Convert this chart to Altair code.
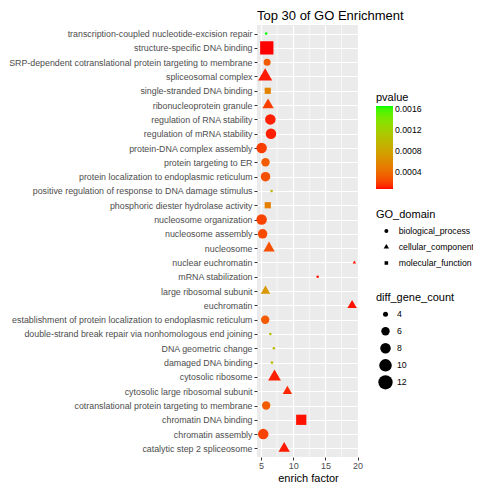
import altair as alt
import pandas as pd

terms = [
    "transcription-coupled nucleotide-excision repair",
    "structure-specific DNA binding",
    "SRP-dependent cotranslational protein targeting to membrane",
    "spliceosomal complex",
    "single-stranded DNA binding",
    "ribonucleoprotein granule",
    "regulation of RNA stability",
    "regulation of mRNA stability",
    "protein-DNA complex assembly",
    "protein targeting to ER",
    "protein localization to endoplasmic reticulum",
    "positive regulation of response to DNA damage stimulus",
    "phosphoric diester hydrolase activity",
    "nucleosome organization",
    "nucleosome assembly",
    "nucleosome",
    "nuclear euchromatin",
    "mRNA stabilization",
    "large ribosomal subunit",
    "euchromatin",
    "establishment of protein localization to endoplasmic reticulum",
    "double-strand break repair via nonhomologous end joining",
    "DNA geometric change",
    "damaged DNA binding",
    "cytosolic ribosome",
    "cytosolic large ribosomal subunit",
    "cotranslational protein targeting to membrane",
    "chromatin DNA binding",
    "chromatin assembly",
    "catalytic step 2 spliceosome",
]
enrich_factor = [5.8, 5.9, 5.95, 5.65, 6.05, 6.1, 6.45, 6.55, 5.1, 5.7,
                 5.7, 6.65, 6.05, 5.1, 5.25, 6.25, 19.5, 13.8, 5.7, 19.15,
                 5.65, 6.45, 7.0, 6.7, 7.1, 9.1, 5.8, 11.25, 5.35, 8.6]
go_domain = ["biological_process", "molecular_function", "biological_process", "cellular_component",
             "molecular_function", "cellular_component", "biological_process", "biological_process",
             "biological_process", "biological_process", "biological_process", "biological_process",
             "molecular_function", "biological_process", "biological_process", "cellular_component",
             "cellular_component", "biological_process", "cellular_component", "cellular_component",
             "biological_process", "biological_process", "biological_process", "molecular_function",
             "cellular_component", "cellular_component", "biological_process", "molecular_function",
             "biological_process", "cellular_component"]
diff_gene_count = [3, 13, 5, 8, 5, 6, 8, 8, 8, 6,
                   7, 3, 5, 8, 7, 6, 3, 3, 5, 5,
                   6, 3, 3, 3, 7, 5, 6, 9, 8, 6]
pvalue = [0.00165, 0.000067, 0.0003, 0.00009, 0.00055, 0.00018, 0.0001, 0.0001, 0.00018, 0.0003,
          0.00025, 0.00095, 0.00052, 0.0002, 0.00022, 0.00025, 0.00008, 0.00008, 0.0007, 0.00008,
          0.0003, 0.00105, 0.00098, 0.00098, 0.0001, 0.00012, 0.0003, 0.00008, 0.0002, 0.00009]

x_ticks = [5, 10, 15, 20]
x_minor = [7.5, 12.5, 17.5]
pvalue_breaks = [0.0004, 0.0008, 0.0012, 0.0016]
count_breaks = [4, 6, 8, 10, 12]
domain_names = ["biological_process", "cellular_component", "molecular_function"]

df = pd.DataFrame({
    "term": terms,
    "enrich": enrich_factor,
    "GO_domain": go_domain,
    "diff_gene_count": diff_gene_count,
    "pvalue": pvalue,
})
df_minor = pd.DataFrame({"enrich": x_minor})

TRI = "M0,-1.555L1.347,0.778L-1.347,0.778Z"
SQ = "M-0.886,-0.886H0.886V0.886H-0.886Z"

size_domain = [3, 4, 5, 6, 7, 8, 10, 12, 13]
size_diam = [2.6, 5, 7, 8.4, 9.5, 10.5, 12.5, 14.3, 15]
size_range = [d * d for d in size_diam]

FONT = "Liberation Sans"
xscale = alt.Scale(domain=[4.38, 20.22], nice=False, zero=False)
xaxis = alt.Axis(values=x_ticks, title="enrich factor", grid=True,
                 gridColor="white", gridWidth=1.2, domain=False,
                 tickColor="#333333", tickSize=3, labelFontSize=9.0,
                 labelColor="#4D4D4D", labelFont=FONT, labelPadding=1,
                 labelOverlap=False,
                 titleFont=FONT, titleFontSize=11, titleFontWeight="normal",
                 titleColor="black", titlePadding=2)

minor = alt.Chart(df_minor).mark_rule(color="white", strokeWidth=0.6).encode(
    x=alt.X("enrich:Q", scale=xscale, axis=xaxis)
)

points = alt.Chart(df).mark_point(filled=True, opacity=1, strokeWidth=0).encode(
    x=alt.X("enrich:Q", scale=xscale, axis=xaxis),
    y=alt.Y("term:N", sort=terms, scale=alt.Scale(padding=0.6),
            axis=alt.Axis(title=None, grid=True, gridColor="white", gridWidth=1.2,
                          domain=False, tickColor="#333333", tickSize=3,
                          labelFontSize=8.85, labelColor="#4D4D4D", labelFont=FONT,
                          labelPadding=2, labelLimit=400, labelOverlap=False)),
    color=alt.Color("pvalue:Q",
                    scale=alt.Scale(domain=[0.000067, 0.00165], range=["#FF0000", "#00FF00"],
                                    interpolate="lab"),
                    legend=alt.Legend(title="pvalue", orient="none", legendX=119, legendY=67,
                                      direction="vertical", values=pvalue_breaks, format=".4f",
                                      gradientLength=83, gradientThickness=17,
                                      gradientStrokeWidth=0, labelOverlap=False,
                                      titlePadding=3)),
    shape=alt.Shape("GO_domain:N",
                    scale=alt.Scale(domain=domain_names, range=["circle", TRI, SQ]),
                    legend=alt.Legend(title="GO_domain", orient="none", legendX=119, legendY=184,
                                      direction="vertical", symbolSize=16,
                                      symbolFillColor="black", symbolStrokeWidth=0,
                                      symbolOffset=6, labelOffset=8, clipHeight=16,
                                      rowPadding=0, titlePadding=3)),
    size=alt.Size("diff_gene_count:Q",
                  scale=alt.Scale(domain=size_domain, range=size_range),
                  legend=alt.Legend(title="diff_gene_count", orient="none", legendX=119,
                                    legendY=267, direction="vertical", values=count_breaks,
                                    symbolFillColor="black", symbolStrokeWidth=0,
                                    symbolType="circle", symbolOffset=2, labelOffset=4,
                                    clipHeight=16.6, rowPadding=0, titlePadding=3)),
)

chart = alt.layer(minor, points).properties(
    width=102,
    height=432,
    padding={"left": 249, "top": 17, "right": 114, "bottom": 28},
    autosize=alt.AutoSizeParams(type="none"),
    title=alt.TitleParams("Top 30 of GO Enrichment", anchor="start", frame="group",
                          fontSize=13, fontWeight="normal", font=FONT, color="black",
                          offset=2),
).configure_view(
    fill="#EBEBEB", stroke=None
).configure_legend(
    titleFont=FONT, titleFontSize=11, titleFontWeight="normal", titleColor="black",
    labelFont=FONT, labelFontSize=8.7, labelColor="black"
)

chart.save("out.html", embed_options={"renderer": "svg", "actions": False})
